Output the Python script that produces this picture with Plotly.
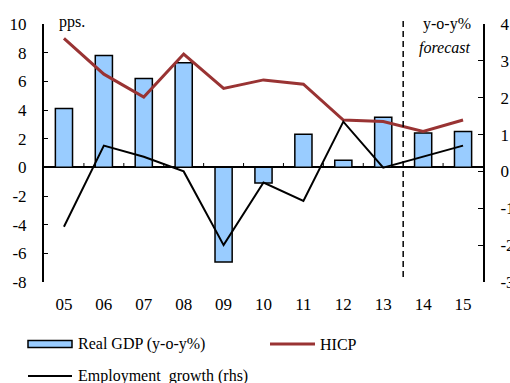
import plotly.graph_objects as go

# Annual data, 2005-2015 (2014-2015 forecast)
years = ["05", "06", "07", "08", "09", "10", "11", "12", "13", "14", "15"]
real_gdp = [4.1, 7.8, 6.2, 7.3, -6.6, -1.1, 2.3, 0.5, 3.5, 2.4, 2.5]
hicp = [9.0, 6.5, 4.9, 7.9, 5.5, 6.1, 5.8, 3.3, 3.2, 2.5, 3.3]
employment = [-1.5, 0.7, 0.4, 0.0, -2.0, -0.3, -0.8, 1.35, 0.1, 0.4, 0.7]

left_ticks = list(range(-8, 11, 2))
right_ticks = list(range(-3, 5))
left_labels = [str(v) for v in left_ticks]
right_labels = [str(v) for v in right_ticks]

FONT = "Liberation Serif, Times New Roman, serif"
BAR_FILL = "#99CCFF"
HICP_COLOR = "#993333"
TICK_FONT = dict(family=FONT, size=17, color="black")

W, H = 510, 383
ML, MR, MT, MB = 44, 27, 24, 101
PW, PH = W - ML - MR, H - MT - MB


def px_x(px):
    return (px - ML) / PW


def px_y(py):
    return (H - MB - py) / PH


fig = go.Figure()
fig.add_trace(go.Bar(
    x=years, y=real_gdp, name="Real GDP (y-o-y%)",
    marker=dict(color=BAR_FILL, line=dict(color="black", width=1.5)),
    width=0.43, showlegend=False,
))
fig.add_trace(go.Scatter(
    x=years, y=hicp, name="HICP", mode="lines",
    line=dict(color=HICP_COLOR, width=3), showlegend=False,
))
fig.add_trace(go.Scatter(
    x=years, y=employment, name="Employment  growth (rhs)", mode="lines",
    line=dict(color="black", width=2), yaxis="y2", showlegend=False,
))

shapes = []
# small ticks on the zero line between years
for k in range(len(years) - 1):
    if k == 8:
        continue
    shapes.append(dict(type="line", xref="x", yref="y", x0=k + 0.5, x1=k + 0.5,
                       y0=0, y1=0.3, line=dict(color="black", width=1)))
# forecast divider
shapes.append(dict(type="line", xref="x", yref="paper", x0=8.5, x1=8.5,
                   y0=px_y(277), y1=px_y(17),
                   line=dict(color="black", width=1.5, dash="6px,4px")))

# legend drawn below the plot
shapes.append(dict(type="rect", xref="paper", yref="paper",
                   x0=px_x(28), x1=px_x(72), y0=px_y(347.5), y1=px_y(340.5),
                   fillcolor=BAR_FILL, line=dict(color="black", width=1.5)))
shapes.append(dict(type="line", xref="paper", yref="paper",
                   x0=px_x(270), x1=px_x(315), y0=px_y(344), y1=px_y(344),
                   line=dict(color=HICP_COLOR, width=3)))
shapes.append(dict(type="line", xref="paper", yref="paper",
                   x0=px_x(28), x1=px_x(72), y0=px_y(376), y1=px_y(376),
                   line=dict(color="black", width=2)))

annotations = [
    dict(text="pps.", xref="paper", yref="paper", x=px_x(57), y=px_y(22),
         xanchor="left", yanchor="middle", showarrow=False),
    dict(text="y-o-y%", xref="paper", yref="paper", x=px_x(473), y=px_y(24),
         xanchor="right", yanchor="middle", showarrow=False),
    dict(text="<i>forecast</i>", xref="paper", yref="paper", x=px_x(473), y=px_y(48),
         xanchor="right", yanchor="middle", showarrow=False),
    dict(text="Real GDP (y-o-y%)", xref="paper", yref="paper", x=px_x(76), y=px_y(344),
         xanchor="left", yanchor="middle", showarrow=False),
    dict(text="HICP", xref="paper", yref="paper", x=px_x(318), y=px_y(344),
         xanchor="left", yanchor="middle", showarrow=False),
    dict(text="Employment  growth (rhs)", xref="paper", yref="paper", x=px_x(76), y=px_y(376),
         xanchor="left", yanchor="middle", showarrow=False),
]

fig.update_layout(
    width=W, height=H,
    margin=dict(l=ML, r=MR, t=MT, b=MB, pad=0, autoexpand=False),
    paper_bgcolor="white", plot_bgcolor="white",
    font=dict(family=FONT, size=16, color="black"),
    showlegend=False,
    xaxis=dict(type="category", showgrid=False, showline=False, ticks="",
               zeroline=False, range=[-0.5, len(years) - 0.5], automargin=False,
               tickfont=TICK_FONT, ticklabelstandoff=10),
    yaxis=dict(range=[-8, 10], tickvals=left_ticks, ticktext=left_labels,
               showgrid=False, showline=True, linecolor="black", linewidth=2,
               ticks="inside", ticklen=4, tickwidth=1, tickcolor="black",
               zeroline=True, zerolinecolor="black", zerolinewidth=2,
               automargin=False, tickfont=TICK_FONT, ticklabelstandoff=12),
    yaxis2=dict(range=[-3, 4], tickvals=right_ticks, ticktext=right_labels,
                overlaying="y", side="right", anchor="x",
                showgrid=False, showline=True, linecolor="black", linewidth=2,
                ticks="inside", ticklen=5, tickwidth=1, tickcolor="black",
                zeroline=False, automargin=False, tickfont=TICK_FONT,
                ticklabelstandoff=12),
    shapes=shapes,
    annotations=annotations,
)

fig.write_html("out.html")
